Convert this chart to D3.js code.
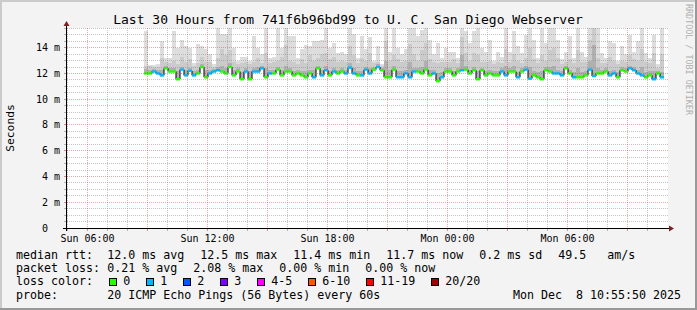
<!DOCTYPE html>
<html><head><meta charset="utf-8">
<script src="https://cdn.jsdelivr.net/npm/d3@7"></script>
<style>
html,body{margin:0;padding:0;background:#f3f3f3;}
svg{display:block;}
text{font-family:"DejaVu Sans Mono",monospace;white-space:pre;}
</style>
</head><body><svg id="c" width="697" height="310"></svg>
<script>
const title = "Last 30 Hours from 741f6b96bd99 to U. C. San Diego Webserver";
const yAxisTitle = "Seconds";
const watermark = "RRDTOOL / TOBI OETIKER";
const timeStart = new Date(2025, 11, 7, 4, 59, 0);
const timeEnd = new Date(2025, 11, 8, 10, 59, 0);
const dataStart = new Date(2025, 11, 7, 8, 50, 0);
const stepMinutes = 12;
const yMax = 15.53;
const yTicks = [0, 2, 4, 6, 8, 10, 12, 14];
const yTickLabels = ["0", "2 m", "4 m", "6 m", "8 m", "10 m", "12 m", "14 m"];
const xTickLabels = ["Sun 06:00", "Sun 12:00", "Sun 18:00", "Mon 00:00", "Mon 06:00"];

// median RTT (ms) per consolidated step
const median = [
 12.0,12.0,12.15,12.0,11.85,12.4,12.15,12.15,11.55,12.3,
 11.85,12.2,11.85,12.0,12.5,11.7,12.0,12.15,12.25,12.15,
 12.0,12.5,11.85,12.15,11.55,12.15,11.55,12.15,12.15,12.4,
 11.7,12.0,12.0,
 12.3,11.85,12.15,12.15,11.85,12.0,11.85,11.7,12.0,11.7,
 12.4,11.85,12.25,11.85,12.15,12.0,12.15,12.0,12.45,12.0,
 11.85,11.85,12.3,12.0,12.3,12.5,12.25,11.7,11.7,12.3,
 11.7,11.7,12.0,
 11.7,12.15,12.15,12.0,12.3,11.85,12.0,11.4,11.7,12.15,
 12.15,11.85,12.15,12.25,12.3,12.0,12.25,11.55,12.25,11.85,
 12.0,11.85,11.85,12.15,11.85,12.15,12.15,11.7,12.15,12.3,
 11.6,11.85,11.7,
 11.55,12.25,12.15,12.0,12.0,11.85,12.4,12.0,11.7,11.7,
 11.7,11.85,12.3,11.8,12.0,12.0,12.15,11.85,12.0,11.7,
 12.25,12.15,12.4,12.25,12.0,11.85,11.7,11.85,11.55,12.0,
 11.7
];
// loss colour class per step (index into lossColors)
const lossLevel = [
 0,0,1,1,1,0,0,0,0,1, 1,1,1,0,0,0,1,1,1,0, 0,0,0,0,0,1,0,1,1,1, 0,1,0,
 0,0,0,0,0,0,0,0,0,1, 0,1,1,0,1,0,0,1,1,1, 0,1,1,1,0,1,0,0,0,0, 1,1,1,
 1,1,0,0,0,0,1,0,1,0, 0,0,0,1,0,0,0,0,0,0, 0,0,0,1,1,0,0,1,0,1, 1,0,0,
 0,0,0,1,1,1,0,0,1,0, 0,0,1,1,0,0,0,1,1,0, 0,0,1,1,1,1,0,0,1,0, 1
];
// smoke: highest ping per step
const smokeMax = [
 15.3,12.65,12.65,12.7,14.5,13.2,13.2,15.3,14.0,14.6,14.1,14.0,12.8,14.3,14.1,13.9,13.5,12.7,15.6,15.1,15.1,15.6,14.0,13.0,13.3,13.3,13.0,14.9,14.0,13.5,15.6,13.2,
 13.3,15.6,14.0,15.6,14.9,14.9,13.2,13.9,14.2,14.1,14.5,14.5,14.6,15.6,14.0,14.4,13.6,13.7,13.5,15.6,15.1,13.2,14.9,13.9,14.8,13.0,14.1,12.7,15.6,13.7,15.6,14.0,13.5,13.9,
 15.6,15.6,14.9,15.4,15.6,14.6,13.5,14.4,13.2,14.0,13.7,13.7,13.2,15.6,15.3,14.4,15.3,15.6,14.0,13.7,14.6,13.0,13.7,13.3,15.6,13.7,15.3,14.1,13.6,15.0,15.6,14.6,13.2,
 15.6,14.4,15.6,15.6,14.6,13.1,13.7,14.9,13.2,15.6,13.7,13.3,15.6,15.6,15.6,13.6,13.2,14.5,14.4,13.0,14.1,13.5,15.0,13.7,14.5,15.6,13.6,13.2,15.0,12.7,15.6
];
// smoke: upper inner band per step
const smokeHi = [
 12.6,12.55,12.5,12.5,13.2,12.9,12.8,13.0,12.7,13.3,12.9,13.1,12.6,12.8,13.3,12.9,12.9,12.5,13.2,13.9,13.4,13.8,12.9,12.7,12.8,12.9,12.7,12.9,13.2,12.8,13.6,12.8,
 12.9,13.0,13.3,14.2,13.0,12.9,12.7,13.1,12.8,13.4,13.0,13.2,13.5,13.6,13.1,13.3,12.9,13.0,12.9,14.1,13.4,12.8,13.2,13.0,13.6,12.8,12.9,12.6,14.5,13.0,13.4,13.1,12.9,13.0,
 14.3,13.5,13.0,13.8,14.4,13.1,12.9,12.8,12.9,12.9,12.9,13.1,12.8,14.8,13.6,13.0,13.6,13.4,12.9,12.9,13.0,12.7,12.9,12.8,13.9,12.9,13.5,13.0,12.8,13.2,14.0,13.1,12.8,
 13.4,13.0,13.8,14.0,13.2,12.7,12.9,13.1,12.8,13.8,12.9,12.9,14.6,15.6,13.2,12.8,12.8,13.3,13.0,12.7,13.0,12.9,13.4,13.1,13.0,13.9,12.9,12.8,13.6,12.4,13.5
];
// smoke: dark core band per step
const smokeMid = [
 12.35,12.3,12.35,12.25,12.3,12.55,12.4,12.45,12.2,12.5,12.3,12.45,12.2,12.3,12.7,12.25,12.3,12.35,12.5,12.6,12.4,12.8,12.3,12.4,12.1,12.4,12.2,12.4,12.5,12.6,12.4,12.3,
 12.3,12.5,12.3,12.6,12.4,12.2,12.3,12.2,12.2,12.3,12.3,12.6,12.3,12.6,12.2,12.4,12.3,12.4,12.3,12.8,12.4,12.2,12.2,12.5,12.4,12.5,12.7,12.4,13.0,12.3,12.6,12.2,12.2,12.3,
 12.9,12.4,12.4,12.5,13.0,12.3,12.3,12.0,12.1,12.4,12.4,12.2,12.4,13.4,12.6,12.3,12.5,12.2,12.45,12.2,12.3,12.2,12.2,12.4,12.6,12.4,12.6,12.1,12.4,12.6,12.5,12.2,12.1,
 12.2,12.5,12.5,12.6,12.3,12.2,12.6,12.3,12.1,12.4,12.1,12.2,13.0,14.2,12.4,12.3,12.4,12.2,12.3,12.1,12.5,12.4,12.6,12.5,12.3,12.5,12.1,12.2,12.2,12.2,12.1
];

const lossLabels = ["0", "1", "2", "3", "4-5", "6-10", "11-19", "20/20"];
const lossColors = ["#26ff00", "#00b8ff", "#0059ff", "#7e00ff", "#ff00ff", "#ff5500", "#ff0000", "#a10000"];
const legendRtt = ["median rtt:", "12.0 ms avg", "12.5 ms max", "11.4 ms min", "11.7 ms now", "0.2 ms sd", "49.5   am/s"];
const legendLoss = ["packet loss:", "0.21 % avg", "2.08 % max", "0.00 % min", "0.00 % now"];
const legendColorTitle = "loss color:";
const probeText = ["probe:", "20 ICMP Echo Pings (56 Bytes) every 60s"];
const dateStamp = "Mon Dec  8 10:55:50 2025";

// ---------- drawing ----------
const W = 697, H = 310;
const L = 67, R = 667, T = 28, B = 228;
const svg = d3.select("#c");
const x = d3.scaleTime().domain([timeStart, timeEnd]).range([L, R]);
const y = d3.scaleLinear().domain([0, yMax]).range([B, T]);
const times = d3.range(median.length + 1).map(i => d3.timeMinute.offset(dataStart, i * stepMinutes));
const px = v => Math.floor(v) + 0.5;

// background & shade
svg.append("rect").attr("width", W).attr("height", H).attr("fill", "#f3f3f3");
svg.append("rect").attr("x", 0).attr("y", 0).attr("width", W).attr("height", 2).attr("fill", "#cbcbcb");
svg.append("rect").attr("x", 0).attr("y", 0).attr("width", 2).attr("height", H).attr("fill", "#cbcbcb");
svg.append("rect").attr("x", W - 2).attr("y", 0).attr("width", 2).attr("height", H).attr("fill", "#999999");
svg.append("rect").attr("x", 0).attr("y", H - 2).attr("width", W).attr("height", 2).attr("fill", "#999999");

// canvas
svg.append("rect").attr("x", L).attr("y", T).attr("width", R - L + 1).attr("height", B - T).attr("fill", "#ffffff");
svg.append("clipPath").attr("id", "clip").append("rect").attr("x", L).attr("y", T).attr("width", R - L + 1).attr("height", B - T);
const plot = svg.append("g").attr("clip-path", "url(#clip)");

// smoke bands
function band(arr, color) {
  plot.append("g").attr("shape-rendering", "crispEdges").selectAll("rect").data(arr).join("rect")
    .attr("x", (d, i) => x(times[i]))
    .attr("width", (d, i) => x(times[i + 1]) - x(times[i]))
    .attr("y", d => y(Math.min(d, yMax + 0.5)))
    .attr("height", (d, i) => Math.max(0, y(median[i]) - y(Math.min(d, yMax + 0.5))))
    .attr("fill", color);
}
band(smokeMax, "#dddddd");
band(smokeHi, "#cbcbcb");
band(smokeMid, "#b0b0b0");

// grid
const grid = svg.append("g").attr("shape-rendering", "crispEdges");
const minorY = d3.range(0.5, yMax, 0.5).filter(v => v % 2 !== 0);
const majorY = yTicks.filter(v => v > 0);
const hours = d3.timeHour.range(timeStart, timeEnd);
const minorX = hours.filter(h => h.getHours() % 3 !== 0);
const majorX = hours.filter(h => h.getHours() % 3 === 0);
const minorCol = "rgba(140,140,140,0.5)", majorCol = "rgba(200,70,70,0.45)";
grid.selectAll(".hmin").data(minorY).join("line")
  .attr("x1", L).attr("x2", R + 1).attr("y1", d => px(y(d))).attr("y2", d => px(y(d)))
  .attr("stroke", minorCol).attr("stroke-dasharray", "1,1");
grid.selectAll(".vmin").data(minorX).join("line")
  .attr("y1", T).attr("y2", B).attr("x1", d => px(x(d))).attr("x2", d => px(x(d)))
  .attr("stroke", minorCol).attr("stroke-dasharray", "1,1");
grid.selectAll(".hmaj").data(majorY).join("line")
  .attr("x1", L).attr("x2", R + 1).attr("y1", d => px(y(d))).attr("y2", d => px(y(d)))
  .attr("stroke", majorCol).attr("stroke-dasharray", "1,1");
grid.selectAll(".vmaj").data(majorX).join("line")
  .attr("y1", T).attr("y2", B).attr("x1", d => px(x(d))).attr("x2", d => px(x(d)))
  .attr("stroke", majorCol).attr("stroke-dasharray", "1,1");

// median black step line
const pts = median.map((m, i) => [times[i], m]).concat([[times[median.length], median[median.length - 1]]]);
plot.append("path").datum(pts)
  .attr("d", d3.line().x(d => x(d[0])).y(d => y(d[1])).curve(d3.curveStepAfter))
  .attr("fill", "none").attr("stroke", "#000").attr("stroke-width", 1);
// loss-coloured median segments
plot.append("g").selectAll("rect").data(median).join("rect")
  .attr("x", (d, i) => x(times[i]))
  .attr("width", (d, i) => x(times[i + 1]) - x(times[i]))
  .attr("y", d => y(d) - 1.2).attr("height", 2.4)
  .attr("fill", (d, i) => lossColors[lossLevel[i]]);

// axes
const ax = svg.append("g").attr("shape-rendering", "crispEdges");
ax.selectAll(".tx").data(hours).join("line")
  .attr("x1", d => px(x(d))).attr("x2", d => px(x(d))).attr("y1", B).attr("y2", B + 3)
  .attr("stroke", d => d.getHours() % 3 === 0 ? "rgba(200,70,70,0.6)" : "rgba(140,140,140,0.6)");
ax.selectAll(".ty").data(d3.range(0, yMax, 0.5)).join("line")
  .attr("y1", d => px(y(d))).attr("y2", d => px(y(d))).attr("x1", L - 3).attr("x2", L)
  .attr("stroke", d => d % 2 === 0 ? "rgba(200,70,70,0.6)" : "rgba(140,140,140,0.6)");
ax.append("line").attr("x1", L - 4).attr("x2", R + 3).attr("y1", B + 0.5).attr("y2", B + 0.5).attr("stroke", "#000");
ax.append("line").attr("x1", L - 0.5).attr("x2", L - 0.5).attr("y1", B + 3).attr("y2", T - 3).attr("stroke", "#000");
svg.append("path").attr("d", `M${L - 0.5},${T - 7} L${L - 3.5},${T - 2} L${L + 2.5},${T - 2} Z`).attr("fill", "#7f1f1f");
svg.append("path").attr("d", `M${R + 7},${B + 0.5} L${R + 2},${B - 2.5} L${R + 2},${B + 3.5} Z`).attr("fill", "#7f1f1f");

// y tick labels
svg.append("g").selectAll("text").data(yTicks).join("text")
  .attr("x", (d, i) => yTickLabels[i].length === 1 ? 60 - 12 : 60)
  .attr("y", d => Math.floor(y(d)) + 4)
  .attr("text-anchor", "end").attr("font-size", 10).attr("fill", "#000")
  .text((d, i) => yTickLabels[i]);

// x tick labels
const labelHours = hours.filter(h => h.getHours() % 6 === 0);
svg.append("g").selectAll("text").data(labelHours).join("text")
  .attr("x", d => px(x(d))).attr("y", 241.5)
  .attr("text-anchor", "middle").attr("font-size", 10).attr("fill", "#000")
  .text((d, i) => xTickLabels[i]);

// title
svg.append("text").attr("x", 348).attr("y", 23.5).attr("text-anchor", "middle")
  .attr("font-size", 13).attr("fill", "#000").text(title);
// y axis title
svg.append("text").attr("transform", "translate(14,128) rotate(-90)").attr("text-anchor", "middle")
  .attr("font-size", 11.3).attr("fill", "#000").text(yAxisTitle);
// watermark
svg.append("text").attr("transform", "translate(685.5,4) rotate(90)")
  .attr("font-size", 8.4).attr("fill", "#b0b0b0").text(watermark);

// legend
const LF = 11.63;
const lg = svg.append("g").attr("font-size", LF).attr("fill", "#000");
const rttX = [16, 107.3, 200.3, 293.3, 386.3, 479.3, 558.3];
legendRtt.forEach((s, i) => lg.append("text").attr("x", rttX[i]).attr("y", 258.5).text(s));
const lossX = [16, 107.3, 193.3, 279.3, 365.3];
legendLoss.forEach((s, i) => lg.append("text").attr("x", lossX[i]).attr("y", 271.8).text(s));
lg.append("text").attr("x", 16).attr("y", 285.2).text(legendColorTitle);
let bx = 108.7;
lossLabels.forEach((s, i) => {
  lg.append("rect").attr("x", Math.round(bx) + 0.5).attr("y", 278.5).attr("width", 7).attr("height", 7)
    .attr("fill", lossColors[i]).attr("stroke", "#000").attr("stroke-width", 1);
  lg.append("text").attr("x", bx + 14.6).attr("y", 285.2).text(s);
  bx += 14.6 + s.length * 7 + 15.4;
});
lg.append("text").attr("x", 16).attr("y", 298.6).text(probeText[0]);
lg.append("text").attr("x", 107.3).attr("y", 298.6).text(probeText[1]);
lg.append("text").attr("x", 681).attr("y", 298.6).attr("text-anchor", "end").text(dateStamp);
</script>
</body></html>
